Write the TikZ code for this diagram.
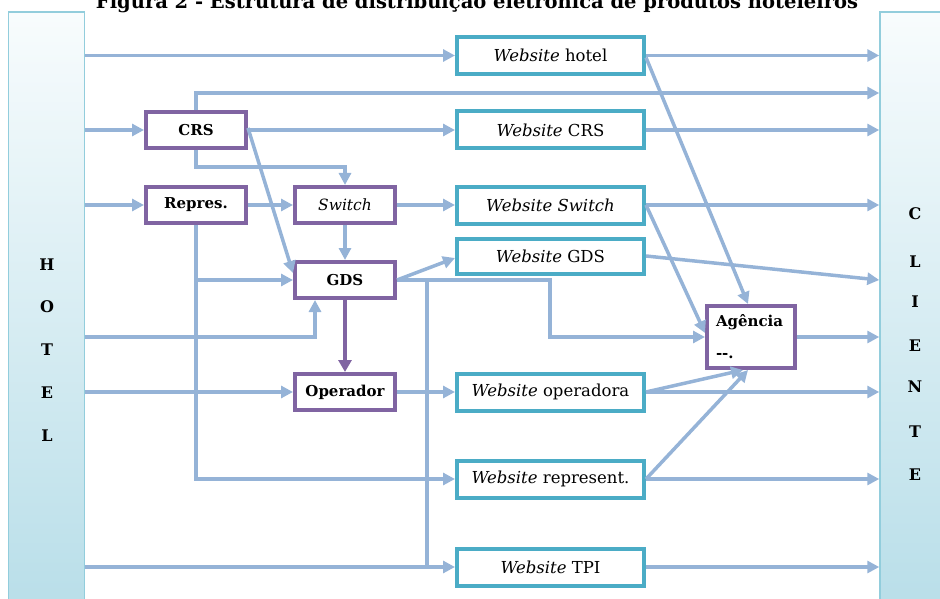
\documentclass[tikz,border=0pt]{standalone}
\usepackage{fontspec}
\setmainfont{DejaVu Serif}
\usetikzlibrary{arrows.meta,calc}
\definecolor{purp}{HTML}{8064A2}
\definecolor{teal5}{HTML}{4BACC6}
\definecolor{arrc}{HTML}{95B3D7}
\definecolor{panb}{HTML}{92CDDC}
\definecolor{pantop}{HTML}{F8FCFD}
\definecolor{panbot}{HTML}{B6DDE8}
\begin{document}
\begin{tikzpicture}[x=1pt,y=-1pt,
  pbox/.style={draw=purp,line width=4pt,fill=white,minimum width=100pt,minimum height=36pt,inner sep=0pt,font=\fontsize{15}{17}\selectfont\bfseries},
  tbox/.style={draw=teal5,line width=4pt,fill=white,minimum width=187pt,minimum height=37pt,inner sep=0pt,font=\fontsize{16.5}{18}\selectfont},
  arr/.style={draw=arrc,line width=3.5pt,-{Triangle[length=12pt,width=12pt]}},
  ln/.style={draw=arrc,line width=3.5pt},
  panel/.style={draw=panb,line width=1.5pt,top color=pantop,bottom color=panbot,minimum width=76pt,minimum height=620pt,inner sep=0pt},
  lett/.style={font=\fontsize{16}{18}\selectfont\bfseries}]
\useasboundingbox (0,0) rectangle (940,599);
\clip (0,0) rectangle (940,599);
% title
\node[anchor=base,font=\fontsize{19.5}{22}\selectfont\bfseries,inner sep=0pt] (title) at (477,9) {Figura 2 - Estrutura de distribuição eletrônica de produtos hoteleiros};
% panels
\node[panel] (hotel) at (46.5,322) {};
\node[panel,minimum width=80pt] (cliente) at (920,322) {};
\foreach \l/\yy [count=\i] in {H/265,O/307,T/350,E/393,L/436}
  \node[lett] (h\i) at (47,\yy) {\l};
\foreach \l/\yy [count=\i] in {C/214,L/262,I/302,E/346,N/387,T/432,E/475}
  \node[lett] (c\i) at (915,\yy) {\l};
% helper coordinates
\coordinate (y93) at (0,93);
\coordinate (y167) at (0,167);
\coordinate (y280) at (0,280);
\coordinate (y337) at (0,337);
\coordinate (x315) at (315,0);
\coordinate (x427) at (427,0);
\coordinate (x550) at (550,0);
% boxes
\node[pbox] (crs) at (196,130) {CRS};
\node[pbox] (repres) at (196,205) {Repres.};
\node[pbox,font=\fontsize{15.5}{17}\selectfont\itshape] (switch) at (345,205) {Switch};
\node[pbox] (gds) at (345,280) {GDS};
\node[pbox] (oper) at (345,392) {Operador};
\node[tbox] (wshotel) at (550.5,55.5) {\textit{Website} hotel};
\node[tbox] (wscrs) at (550.5,130) {\textit{Website} CRS};
\node[tbox] (wsswitch) at (550.5,205) {\textit{Website Switch}};
\node[tbox,minimum height=35pt] (wsgds) at (550.5,256) {\textit{Website} GDS};
\node[tbox] (wsoper) at (550.5,392) {\textit{Website} operadora};
\node[tbox] (wsrep) at (550.5,479) {\textit{Website} represent.};
\node[tbox] (wstpi) at (550.5,567) {\textit{Website} TPI};
\node[pbox,minimum width=88pt,minimum height=62pt,align=left,text width=70pt,font=\fontsize{15}{17}\selectfont\bfseries] (ag) at (751,337) {Agência\\[15pt]-{}-.};
% connectors
\draw[arr] (hotel.east |- wshotel) -- (wshotel.west);
\draw[arr] (wshotel.east) -- (cliente.west |- wshotel);
\draw[arr] (crs.north) -- (crs.north |- y93) -- (cliente.west |- y93);
\draw[arr] (hotel.east |- crs) -- (crs.west);
\draw[arr] (crs.east) -- (wscrs.west);
\draw[arr] (wscrs.east) -- (cliente.west |- wscrs);
\draw[arr] (crs.south) -- (crs.south |- y167) -| (switch.north);
\draw[arr] ([yshift=2pt]crs.east) -- ([yshift=7pt]gds.west);
\draw[arr] (hotel.east |- repres) -- (repres.west);
\draw[arr] (repres.east) -- (switch.west);
\draw[arr] (switch.east) -- (wsswitch.west);
\draw[arr] (wsswitch.east) -- (cliente.west |- wsswitch);
\draw[arr] (switch.south) -- (gds.north);
\draw[arr] (repres.south) |- (wsrep.west);
\draw[arr] (repres.south |- gds) -- (gds.west);
\draw[arr] (hotel.east |- y337) -| (x315 |- gds.south);
\draw[draw=purp,line width=4pt,-{Triangle[length=12pt,width=13pt]}] (gds.south) -- (oper.north);
\draw[arr] (hotel.east |- oper) -- (oper.west);
\draw[arr] (oper.east) -- (wsoper.west);
\draw[arr] (gds.east) -- ([yshift=-2pt]wsgds.west);
\draw[ln] (gds.east) -- (x427 |- gds) -- (x427 |- wstpi);
\draw[arr] (hotel.east |- wstpi) -- (wstpi.west);
\draw[arr] (gds.east) -- (x550 |- gds) |- (ag.west);
\draw[arr] ([yshift=-2pt]wshotel.east) -- ([xshift=-3pt]ag.north);
\draw[arr] (wsswitch.east) -- ([yshift=4pt]ag.west);
\draw[arr] (wsgds.east) -- (cliente.west |- y280);
\draw[arr] (ag.east) -- (cliente.west |- ag);
\draw[arr] (wsoper.east) -- (cliente.west |- wsoper);
\draw[arr] (wsoper.east) -- ([xshift=-8pt]ag.south);
\draw[arr] (wsrep.east) -- (cliente.west |- wsrep);
\draw[arr] (wsrep.east) -- ([xshift=-3pt]ag.south);
\draw[arr] (wstpi.east) -- (cliente.west |- wstpi);
\end{tikzpicture}
\end{document}
